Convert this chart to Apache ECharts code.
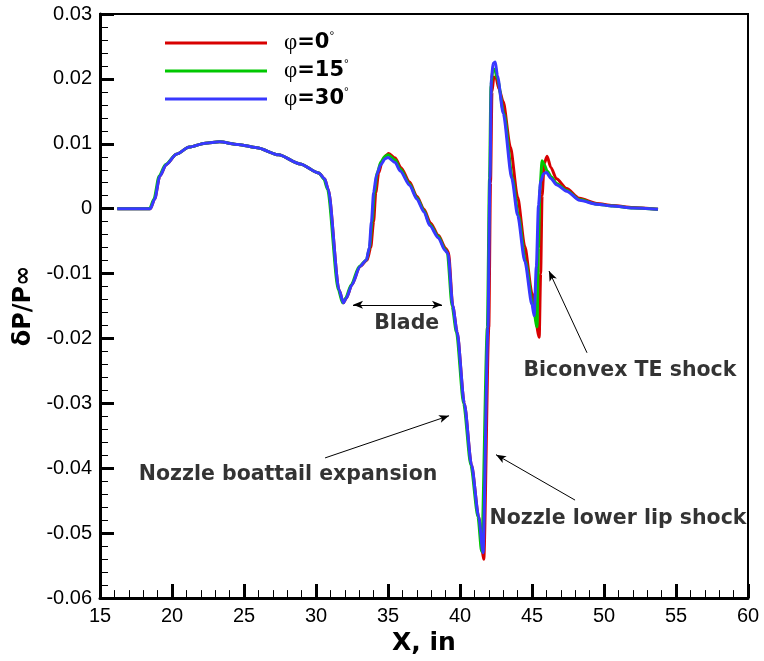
<!DOCTYPE html>
<html>
<head>
<meta charset="utf-8">
<script src="https://cdn.jsdelivr.net/npm/echarts@6/dist/echarts.min.js"></script>
<style>
  html, body { margin: 0; padding: 0; background: #fff; }
  #chart { width: 764px; height: 661px; }
</style>
</head>
<body>
<div id="chart"></div>
<script>
// Pressure signature dP/Pinf along X for three azimuth angles
const seriesNames = ['φ=0°', 'φ=15°', 'φ=30°'];
const seriesColors = ['#d80000', '#00c800', '#3838ff'];

const x0 = [16.2, 18.5, 18.8, 19.15, 19.6, 20.3, 21.2, 22.3, 23.3, 24.6, 25.9, 27.4, 28.9, 30.2, 30.6, 30.85, 31.6, 31.9, 32.1, 32.5, 33.05, 33.55, 33.8, 34.0, 34.15, 34.35, 34.6, 34.85, 35.05, 35.5, 35.9, 36.5, 37.0, 37.5, 37.95, 38.5, 39.0, 39.2, 39.5, 39.8, 40.3, 40.8, 41.3, 41.65, 42.0, 42.12, 42.22, 42.35, 42.5, 42.7, 43.0, 43.5, 44.0, 44.5, 45.0, 45.5, 45.6, 45.7, 45.85, 46.05, 46.3, 46.7, 47.4, 48.3, 49.5, 50.6, 52.0, 53.75];
const dp0 = [0, 0, 0.0015, 0.005, 0.0068, 0.0084, 0.0095, 0.0101, 0.0103, 0.0099, 0.0094, 0.0083, 0.0069, 0.0055, 0.0046, 0.003, -0.0125, -0.0145, -0.0138, -0.0117, -0.0089, -0.0079, -0.006, -0.002, 0.0025, 0.0055, 0.0073, 0.0082, 0.0085, 0.0078, 0.0063, 0.0041, 0.0019, -0.0001, -0.0022, -0.0041, -0.0061, -0.0067, -0.015, -0.019, -0.030, -0.0395, -0.0475, -0.054, -0.0183, 0.004, 0.018, 0.0203, 0.0202, 0.0185, 0.0165, 0.0095, 0.0018, -0.0058, -0.0130, -0.0198, -0.010, 0.002, 0.0070, 0.0081, 0.0064, 0.0046, 0.0031, 0.0016, 0.0008, 0.0005, 0.0002, -0.0001];

const x15 = [16.2, 18.45, 18.75, 19.1, 19.55, 20.3, 21.2, 22.3, 23.3, 24.6, 25.9, 27.4, 28.9, 30.2, 30.55, 30.8, 31.55, 31.85, 32.05, 32.45, 33.0, 33.5, 33.72, 33.9, 34.05, 34.25, 34.5, 34.8, 35.0, 35.5, 35.85, 36.5, 37.0, 37.5, 37.9, 38.5, 38.95, 39.12, 39.45, 39.75, 40.25, 40.75, 41.25, 41.5, 41.9, 42.05, 42.15, 42.28, 42.4, 42.6, 43.05, 43.65, 44.05, 44.55, 45.05, 45.35, 45.45, 45.55, 45.7, 45.85, 46.05, 46.35, 46.7, 47.4, 48.3, 49.5, 50.6, 52.0, 53.75];
const dp15 = [0, 0, 0.0015, 0.005, 0.0068, 0.0084, 0.0095, 0.0101, 0.0103, 0.0099, 0.0094, 0.0083, 0.0069, 0.0055, 0.0046, 0.003, -0.0125, -0.0145, -0.0138, -0.0117, -0.0089, -0.0079, -0.006, -0.002, 0.0025, 0.0055, 0.0072, 0.0081, 0.0083, 0.0075, 0.0061, 0.0038, 0.0017, -0.0003, -0.0024, -0.0043, -0.0062, -0.0068, -0.015, -0.019, -0.030, -0.0395, -0.0475, -0.0528, -0.0183, 0.0046, 0.019, 0.0214, 0.0215, 0.0200, 0.0147, 0.0046, -0.001, -0.0081, -0.0148, -0.0182, -0.006, 0.003, 0.0074, 0.0068, 0.0058, 0.0049, 0.0039, 0.0028, 0.0014, 0.0007, 0.0004, 0.0001, -0.0001];

const x30 = [16.2, 18.5, 18.8, 19.15, 19.6, 20.3, 21.2, 22.3, 23.3, 24.6, 25.9, 27.4, 28.9, 30.2, 30.6, 30.85, 31.6, 31.9, 32.1, 32.5, 33.05, 33.5, 33.7, 33.85, 34.0, 34.2, 34.5, 34.8, 35.0, 35.5, 35.85, 36.5, 37.0, 37.5, 37.9, 38.5, 38.95, 39.17, 39.5, 39.8, 40.3, 40.8, 41.3, 41.6, 41.94, 42.08, 42.18, 42.3, 42.45, 42.6, 43.0, 43.6, 44.0, 44.5, 45.0, 45.15, 45.3, 45.45, 45.6, 45.8, 46.0, 46.3, 46.7, 47.4, 48.3, 49.5, 50.6, 52.0, 53.75];
const dp30 = [0, 0, 0.0015, 0.005, 0.0068, 0.0084, 0.0095, 0.0101, 0.0103, 0.0099, 0.0094, 0.0083, 0.0069, 0.0055, 0.0046, 0.003, -0.0125, -0.0145, -0.0138, -0.0117, -0.0089, -0.0079, -0.006, -0.002, 0.0025, 0.0052, 0.0068, 0.0077, 0.0079, 0.0071, 0.0058, 0.0036, 0.0015, -0.0005, -0.0026, -0.0045, -0.0064, -0.0069, -0.015, -0.019, -0.030, -0.0395, -0.0475, -0.053, -0.0183, 0.0046, 0.020, 0.0224, 0.0226, 0.0205, 0.0147, 0.0046, -0.001, -0.0081, -0.0148, -0.0165, -0.009, 0.0005, 0.0042, 0.0054, 0.0056, 0.0047, 0.0037, 0.0027, 0.0013, 0.0007, 0.0004, 0.0001, -0.0001];

// Annotation texts and their anchor points (data units)
const noteTexts = ['Blade', 'Nozzle boattail expansion', 'Nozzle lower lip shock', 'Biconvex TE shock'];
const noteAnchors = [[36.3, -0.0177], [28.06, -0.0410], [50.97, -0.0477], [51.8, -0.0249]];
// Leader arrows: [start, end] in data units
const arrowFrom = [[32.57, -0.0148], [30.63, -0.0384], [47.99, -0.0449], [48.82, -0.0222]];
const arrowTo = [[38.75, -0.0148], [39.24, -0.0319], [42.50, -0.0379], [46.18, -0.0096]];
const arrowBothEnds = [true, false, false, false];

// Axis ranges
const xMin = 15, xMax = 60, xStep = 5;
const yMin = -0.06, yMax = 0.03, yStep = 0.01;

function zip(xs, ys) { return xs.map((x, i) => [x, ys[i]]); }
const seriesData = [zip(x0, dp0), zip(x15, dp15), zip(x30, dp30)];

const chart = echarts.init(document.getElementById('chart'));

const tickFont = 'Liberation Sans, Arial, sans-serif';
const boldFont = 'DejaVu Sans, sans-serif';
const greekFont = 'Liberation Serif, serif';

function yLabel(v) {
  const r = Math.round(v * 100) / 100;
  return r === 0 ? '0' : r.toFixed(2);
}
function xLabel(v) {
  return String(Math.round(v));
}

const lineSeries = seriesNames.map((name, i) => ({
  name: name,
  type: 'line',
  data: seriesData[i],
  symbol: 'none',
  showSymbol: false,
  smooth: 0.25,
  smoothMonotone: 'x',
  lineStyle: { color: seriesColors[i], width: 3 },
  itemStyle: { color: seriesColors[i] },
  z: 2 + i
}));

const noteSeries = {
  name: 'notes',
  type: 'scatter',
  data: noteAnchors.map((p, i) => ({ value: p, name: noteTexts[i] })),
  symbolSize: 0,
  silent: true,
  label: {
    show: true,
    position: 'inside',
    formatter: '{b}',
    fontFamily: boldFont,
    fontWeight: 'bold',
    fontSize: 20.5,
    color: '#000'
  },
  markLine: {
    silent: true,
    animation: false,
    symbol: ['none', 'arrow'],
    symbolSize: [6, 10],
    label: { show: false },
    lineStyle: { color: '#000', width: 1, type: 'solid' },
    data: arrowFrom.map((a, i) => [
      { coord: a, symbol: arrowBothEnds[i] ? 'arrow' : 'none' },
      { coord: arrowTo[i], symbol: 'arrow' }
    ])
  },
  z: 10
};

chart.setOption({
  animation: false,
  grid: { left: 100, right: 16, top: 14, bottom: 58, show: true, borderColor: '#000', borderWidth: 2 },
  legend: {
    show: true,
    data: seriesNames,
    orient: 'vertical',
    left: 160,
    top: 26,
    icon: 'rect',
    itemWidth: 102,
    itemHeight: 3,
    itemGap: 4,
    formatter: function (name) {
      const deg = name.replace('φ=', '').replace('°', '');
      return '{p|φ}{b|=' + deg + '}{s|°}';
    },
    textStyle: {
      lineHeight: 24,
      padding: [0, 0, 0, 12],
      rich: {
        p: { fontSize: 23, fontFamily: greekFont, color: '#000' },
        b: { fontSize: 21, fontFamily: boldFont, fontWeight: 'bold', color: '#000' },
        s: { fontSize: 12, fontFamily: tickFont, color: '#000', verticalAlign: 'top' }
      }
    }
  },
  xAxis: {
    type: 'value',
    min: xMin, max: xMax, interval: xStep,
    name: 'X, in',
    nameLocation: 'middle',
    nameGap: 30,
    nameTextStyle: { fontSize: 25, fontWeight: 'bold', fontFamily: boldFont, color: '#000' },
    axisLine: { show: true, onZero: false, lineStyle: { color: '#000', width: 3 } },
    axisTick: { show: true, inside: true, length: 14, lineStyle: { color: '#000', width: 3 } },
    minorTick: { show: true, splitNumber: 5, length: 8, lineStyle: { color: '#000', width: 1 } },
    splitLine: { show: false },
    axisLabel: { show: true, formatter: xLabel, fontSize: 20, fontFamily: tickFont, color: '#000' }
  },
  yAxis: {
    type: 'value',
    min: yMin, max: yMax, interval: yStep,
    name: 'δP/P∞',
    nameLocation: 'middle',
    nameRotate: 90,
    nameGap: 62,
    nameTextStyle: { fontSize: 24, fontWeight: 'bold', fontFamily: boldFont, color: '#000' },
    axisLine: { show: true, onZero: false, lineStyle: { color: '#000', width: 3 } },
    axisTick: { show: true, inside: true, length: 14, lineStyle: { color: '#000', width: 3 } },
    minorTick: { show: true, splitNumber: 5, length: 8, lineStyle: { color: '#000', width: 1 } },
    splitLine: { show: false },
    axisLabel: { show: true, formatter: yLabel, fontSize: 20, fontFamily: tickFont, color: '#000' }
  },
  series: lineSeries.concat([noteSeries])
});
</script>
</body>
</html>
